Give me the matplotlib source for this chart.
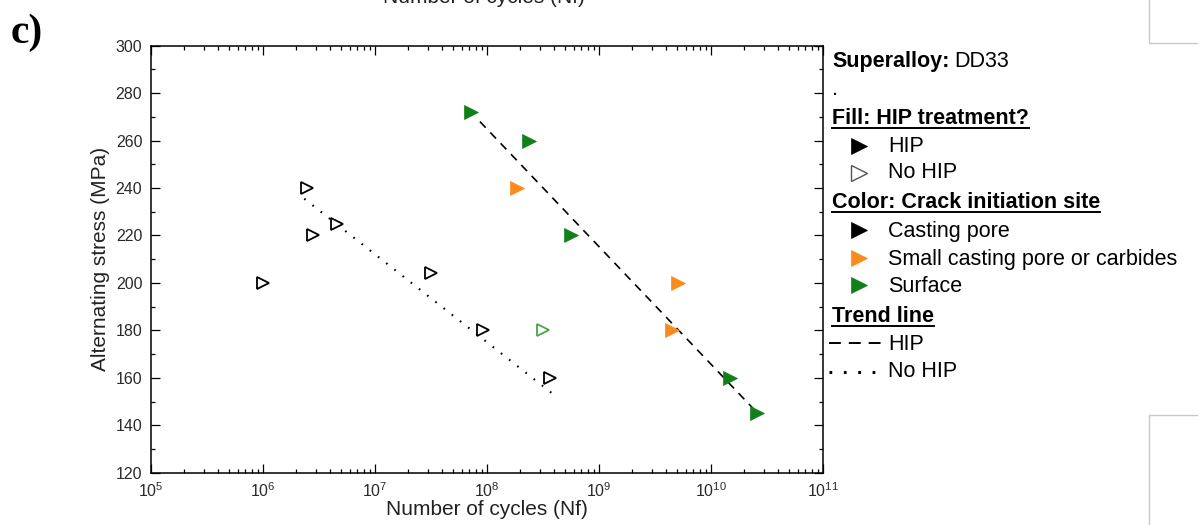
import numpy as np
import matplotlib
matplotlib.use("Agg")
import matplotlib.pyplot as plt
from matplotlib.ticker import LogLocator, LogFormatterMathtext, MultipleLocator

plt.rcParams['font.family'] = ['Liberation Sans', 'DejaVu Sans']
plt.rcParams['mathtext.fontset'] = 'custom'
plt.rcParams['mathtext.rm'] = 'Liberation Sans'

# data
cycles = [1.0e6, 2.5e6, 2.8e6, 4.6e6, 3.2e7, 9.3e7, 3.7e8, 3.2e8,
          7.3e7, 2.4e8, 1.85e8, 5.7e8, 5.1e9, 4.5e9, 1.48e10, 2.6e10]
stress = [200, 240, 220, 225, 204, 180, 160, 180,
          272, 260, 240, 220, 200, 180, 160, 145]
hip = [False, False, False, False, False, False, False, False,
       True, True, True, True, True, True, True, True]
site = ['pore', 'pore', 'pore', 'pore', 'pore', 'pore', 'pore', 'surface',
        'surface', 'surface', 'small', 'surface', 'small', 'small', 'surface', 'surface']

hip_trend_n = [8.7e7, 2.4e10]
hip_trend_s = [268, 147]
nohip_trend_n = [2.35e6, 4.2e8]
nohip_trend_s = [235.5, 152]

site_color = {'pore': 'black', 'small': '#fb8a1e', 'surface': '#12801a'}
open_color = {'pore': 'black', 'small': '#fb8a1e', 'surface': '#4aa54a'}

W, H = 1204, 525
fig = plt.figure(figsize=(W / 100, H / 100), dpi=100)
ax = fig.add_axes([150.7 / W, 1 - 472.7 / H, 672 / W, 427 / H])

ax.plot(hip_trend_n, hip_trend_s, color='black', lw=1.2, dashes=(5, 4), zorder=3)
ax.plot(nohip_trend_n, nohip_trend_s, color='black', lw=1.5, dashes=(0.8, 4.2), zorder=3)

for n, s, h, st in zip(cycles, stress, hip, site):
    if h:
        ax.plot(n, s, marker='>', ms=10, color=site_color[st], mec=site_color[st],
                mew=0.5, ls='none', zorder=4)
    else:
        ax.plot(n, s, marker='>', ms=9, mfc='white', mec=open_color[st],
                mew=1.3, ls='none', zorder=4)

ax.set_xscale('log')
ax.set_xlim(1e5, 1e11)
ax.set_ylim(120, 300)
ax.xaxis.set_major_locator(LogLocator(base=10, numticks=10))
ax.xaxis.set_minor_locator(LogLocator(base=10, subs=np.arange(2, 10), numticks=20))
ax.xaxis.set_major_formatter(LogFormatterMathtext())
ax.yaxis.set_major_locator(MultipleLocator(20))
ax.yaxis.set_minor_locator(MultipleLocator(10))
ax.tick_params(which='both', direction='in', top=True, right=True, width=0.9,
               labelsize=11.5, labelcolor='#2a2a2a')
ax.tick_params(which='major', length=6.5)
ax.tick_params(axis='y', pad=6)
ax.tick_params(axis='x', pad=6)
ax.tick_params(which='minor', length=3.2)
for sp in ax.spines.values():
    sp.set_linewidth(1.1)
ax.set_xlabel('Number of cycles (Nf)', fontsize=15, labelpad=0, color='#222222')
ax.set_ylabel('Alternating stress (MPa)', fontsize=15, labelpad=4, color='#222222')

# overlay in pixel coordinates for the hand-made legend and panel label
ov = fig.add_axes([0, 0, 1, 1], zorder=10)
ov.set_xlim(0, W)
ov.set_ylim(H, 0)
ov.axis('off')
ov.patch.set_alpha(0)

ov.text(11, 43, 'c)', fontsize=30, fontweight='bold', family='Liberation Serif',
        va='baseline', ha='left')
ov.text(383, 3, 'Number of cycles (Nf)', fontsize=15, va='baseline', ha='left',
        color='#222222', clip_on=False)

fs = 15.5
tx = 832
t1 = ov.text(tx, 67, 'Superalloy:', fontsize=fs, fontweight='bold', va='baseline')
fig.canvas.draw()
bb = t1.get_window_extent().transformed(ov.transData.inverted())
ov.text(bb.x1 + 5, 67, 'DD33', fontsize=fs, va='baseline')
ov.text(tx, 95, '.', fontsize=fs, va='baseline')

headers = [('Fill: HIP treatment?', 124), ('Color: Crack initiation site', 208),
           ('Trend line', 322)]
for label, y in headers:
    t = ov.text(tx, y, label, fontsize=fs, fontweight='bold', va='baseline')
    fig.canvas.draw()
    bb = t.get_window_extent().transformed(ov.transData.inverted())
    ov.plot([bb.x0, bb.x1], [y + 4, y + 4], color='black', lw=1.4)

mx, lx = 859, 888
entries = [('HIP', 152, 146, 'black', 'black'),
           ('No HIP', 178, 173, 'white', '#555555'),
           ('Casting pore', 237, 230, 'black', 'black'),
           ('Small casting pore or carbides', 265, 258, '#fb8a1e', '#fb8a1e'),
           ('Surface', 292, 285, '#12801a', '#12801a')]
for label, yb, ym, fc, ec in entries:
    ov.plot(mx, ym, marker='>', ms=11.5, mfc=fc, mec=ec,
            mew=1.0 if fc == 'white' else 0.5, ls='none')
    ov.text(lx, yb, label, fontsize=fs, va='baseline')

ov.plot([829, 886], [343, 343], color='black', lw=1.4, dashes=(6.1, 4.1))
ov.text(888, 350, 'HIP', fontsize=fs, va='baseline')
ov.plot([829, 877], [372, 372], color='black', lw=2.2, dashes=(0.9, 3.8),
        dash_capstyle='butt')
ov.text(888, 377, 'No HIP', fontsize=fs, va='baseline')

# faint frame fragments at the right edge
gc = '#c8c8c8'
ov.plot([1149, 1149, 1197], [0, 43, 43], color=gc, lw=1.0)
ov.plot([1149, 1149, 1197], [525, 415, 415], color=gc, lw=1.0)

fig.savefig('out.png', dpi=100)
